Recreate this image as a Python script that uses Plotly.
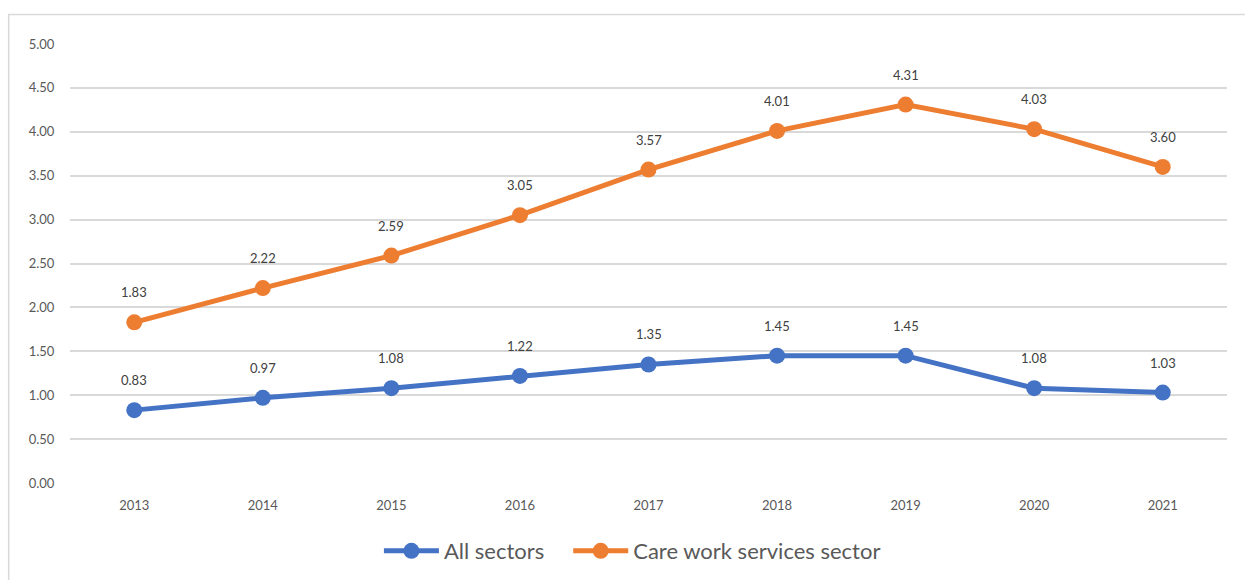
import plotly.graph_objects as go

years = ["2013", "2014", "2015", "2016", "2017", "2018", "2019", "2020", "2021"]
all_sectors = [0.83, 0.97, 1.08, 1.22, 1.35, 1.45, 1.45, 1.08, 1.03]
care_work = [1.83, 2.22, 2.59, 3.05, 3.57, 4.01, 4.31, 4.03, 3.60]
y_ticks = [0, 0.5, 1.0, 1.5, 2.0, 2.5, 3.0, 3.5, 4.0, 4.5, 5.0]

BLUE = "#4472C4"
ORANGE = "#ED7D31"
TEXT = "#595959"
GRID = "#D9D9D9"
FONT = "Lato, 'Open Sans', sans-serif"

series = [("All sectors", all_sectors, BLUE, "legend"),
          ("Care work services sector", care_work, ORANGE, "legend2")]

fig = go.Figure()
for name, vals, col, leg in series:
    fig.add_trace(go.Scatter(
        x=years, y=vals, name=name, mode="lines+markers",
        line=dict(color=col, width=5),
        marker=dict(color=col, size=16),
        legend=leg,
    ))
    # value labels above each point (category index positions)
    for i, v in enumerate(vals):
        fig.add_annotation(x=i, y=v, text=f"{v:.2f}", showarrow=False,
                           yshift=30, font=dict(size=13, color="#404040", family=FONT))

legend_style = dict(orientation="h", yanchor="middle", y=-0.155, xanchor="left",
                    font=dict(size=22, color=TEXT), bgcolor="rgba(0,0,0,0)",
                    itemwidth=55)

fig.update_layout(
    width=1245, height=580,
    margin=dict(l=70, r=18, t=44, b=97, autoexpand=False),
    paper_bgcolor="white", plot_bgcolor="white",
    font=dict(family=FONT, color=TEXT),
    showlegend=True,
    legend=dict(x=0.267, **legend_style),
    legend2=dict(x=0.4306, **legend_style),
    xaxis=dict(type="category", range=[-0.5, len(years) - 0.5], showgrid=False,
               zeroline=False, showline=False,
               tickfont=dict(size=13, color=TEXT), ticks="outside", ticklen=10,
               tickcolor="rgba(0,0,0,0)"),
    yaxis=dict(range=[0, 5], tickvals=y_ticks, tickformat=".2f", showgrid=True,
               gridcolor=GRID, gridwidth=1.5, zeroline=False, showline=False,
               tickfont=dict(size=13, color=TEXT), ticks="outside", ticklen=12,
               tickcolor="rgba(0,0,0,0)"),
    shapes=[dict(type="rect", xref="paper", yref="paper",
                 x0=-0.053, x1=1.05, y0=-0.3, y1=1.067,
                 line=dict(color=GRID, width=1.5), fillcolor="rgba(0,0,0,0)", layer="below")],
)

fig.write_html("out.html")
